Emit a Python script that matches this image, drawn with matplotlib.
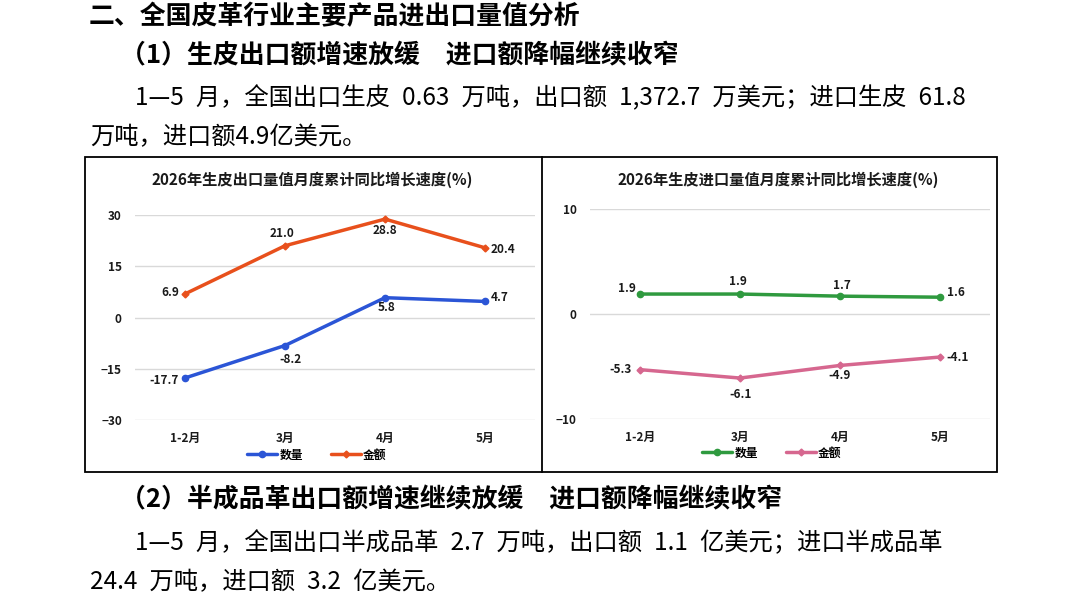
import matplotlib
matplotlib.use("Agg")
import matplotlib.pyplot as plt
from matplotlib.lines import Line2D

plt.rcParams['font.family'] = ['Noto Sans CJK SC', 'DejaVu Sans']

W, H = 1086, 595

# ---------------- data ----------------
months = ["1-2月", "3月", "4月", "5月"]
export_qty = [-17.7, -8.2, 5.8, 4.7]     # 数量
export_val = [6.9, 21.0, 28.8, 20.4]     # 金额
import_qty = [1.9, 1.9, 1.7, 1.6]        # 数量
import_val = [-5.3, -6.1, -4.9, -4.1]    # 金额
left_title = "2026年生皮出口量值月度累计同比增长速度(%)"
right_title = "2026年生皮进口量值月度累计同比增长速度(%)"
left_ticks = [-30, -15, 0, 15, 30]
right_ticks = [-10, 0, 10]
series_names = ["数量", "金额"]

SP = "\u2002"  # half-width space as in the source document
heading1 = "二、全国皮革行业主要产品进出口量值分析"
heading2 = "（1）生皮出口额增速放缓　进口额降幅继续收窄"
para1a = f"1—5{SP}月，全国出口生皮{SP}0.63{SP}万吨，出口额{SP}1,372.7{SP}万美元；进口生皮{SP}61.8"
para1b = "万吨，进口额4.9亿美元。"
heading3 = "（2）半成品革出口额增速继续放缓　进口额降幅继续收窄"
para2a = f"1—5{SP}月，全国出口半成品革{SP}2.7{SP}万吨，出口额{SP}1.1{SP}亿美元；进口半成品革"
para2b = f"24.4{SP}万吨，进口额{SP}3.2{SP}亿美元。"

# label offsets in pixels (dx, dy, ha)
left_qty_off = [(-6, -3, 'right'), (5, -14, 'center'), (2, -10, 'center'), (6, 4, 'left')]
left_val_off = [(-6, 1, 'right'), (-3, 12, 'center'), (0, -11, 'center'), (6, -2, 'left')]
right_qty_off = [(-4, 6, 'right'), (-2, 13, 'center'), (2, 11, 'center'), (7, 5, 'left')]
right_val_off = [(-8, 0, 'right'), (1, -16, 'center'), (0, -10, 'center'), (6, 0, 'left')]

BLUE = "#2b55d6"
ORANGE = "#e8501c"
GREEN = "#2f9a3f"
PINK = "#d6678f"
GRID = "#d9d9d9"


def fx(x):
    return x / W


def fy(y):
    return 1 - y / H


fig = plt.figure(figsize=(W / 100, H / 100), dpi=100)
fig.patch.set_facecolor("white")

# ---------------- document text ----------------
fig.text(fx(89), fy(17), heading1, fontsize=18.6, fontweight='bold', va='center', ha='left')
fig.text(fx(120), fy(56), heading2, fontsize=18.6, fontweight='bold', va='center', ha='left')
fig.text(fx(135), fy(98), para1a, fontsize=17.5, va='center', ha='left')
fig.text(fx(90), fy(137), para1b, fontsize=17.5, va='center', ha='left')
fig.text(fx(120), fy(500), heading3, fontsize=18.6, fontweight='bold', va='center', ha='left')
fig.text(fx(135), fy(543), para2a, fontsize=17.5, va='center', ha='left')
fig.text(fx(90), fy(582), para2b, fontsize=17.5, va='center', ha='left')

# boxes
fig.add_artist(plt.Rectangle((fx(85), fy(472)), (997 - 85) / W, (472 - 157) / H,
                             transform=fig.transFigure, fill=False, edgecolor='black', linewidth=1.3))
fig.add_artist(Line2D([fx(542), fx(542)], [fy(157), fy(472)], transform=fig.transFigure,
                      color='black', linewidth=1.3))


def draw_chart(rect, ylim, ticks, s1, s2, c1, c2, m2, off1, off2, title, title_xy, leg_anchor):
    ax = fig.add_axes(rect)
    x = list(range(len(months)))
    ax.plot(x, s1, color=c1, linewidth=2.5, marker='o', markersize=4.5,
            solid_capstyle='round', label=series_names[0], zorder=3)
    ax.plot(x, s2, color=c2, linewidth=2.5, marker=m2, markersize=3.5,
            solid_capstyle='round', label=series_names[1], zorder=3)
    for vals, offs in ((s1, off1), (s2, off2)):
        for i, v in enumerate(vals):
            dx, dy, ha = offs[i]
            ax.annotate(f"{v:.1f}", (i, v), xytext=(dx, dy), textcoords='offset pixels',
                        ha=ha, va='center', fontsize=8.5, fontweight='bold', color='#1a1a1a')
    ax.set_xlim(-0.5, len(months) - 0.5)
    ax.set_ylim(*ylim)
    ax.set_yticks(ticks)
    ax.set_xticks(x)
    ax.set_xticklabels(months)
    ax.grid(axis='y', color=GRID, linewidth=1.0)
    ax.set_axisbelow(True)
    for s in ax.spines.values():
        s.set_visible(False)
    ax.tick_params(axis='y', length=0, pad=9.5, labelsize=8.5, labelcolor='#1a1a1a')
    ax.tick_params(axis='x', length=0, pad=8.5, labelsize=8.5, labelcolor='#1a1a1a')
    for lab in ax.get_xticklabels() + ax.get_yticklabels():
        lab.set_fontweight('bold')
    ax.legend(loc='center', bbox_to_anchor=leg_anchor, ncol=2, frameon=False,
              prop={'size': 8.5, 'weight': 'bold'}, handlelength=2.5, handletextpad=0.2,
              columnspacing=2.4, numpoints=1)
    fig.text(fx(title_xy[0]), fy(title_xy[1]), title, fontsize=11, fontweight='bold',
             ha='center', va='center', color='#1a1a1a')
    return ax


draw_chart([fx(135), fy(420), 400 / W, 205 / H], (-30, 30), left_ticks,
           export_qty, export_val, BLUE, ORANGE, 'D', left_qty_off, left_val_off,
           left_title, (312, 180), (0.455, -0.171))
draw_chart([fx(590), fy(419), 400 / W, 210 / H], (-10, 10), right_ticks,
           import_qty, import_val, GREEN, PINK, 'D', right_qty_off, right_val_off,
           right_title, (778, 180), (0.455, -0.162))

fig.savefig("out.png", dpi=100, facecolor='white')
